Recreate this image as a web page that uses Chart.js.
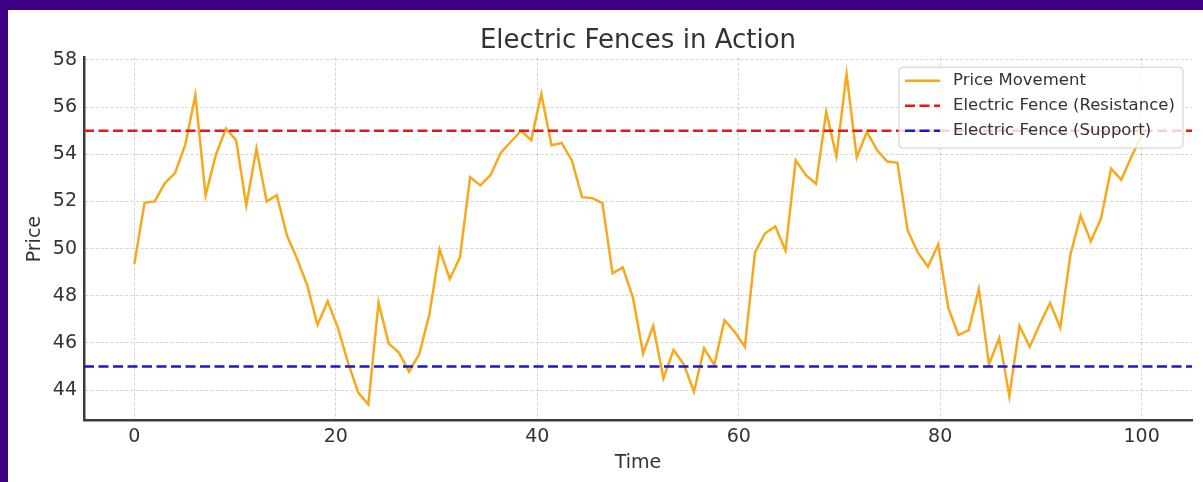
<!DOCTYPE html>
<html>
<head>
<meta charset="utf-8">
<title>Electric Fences in Action</title>
<script src="https://cdn.jsdelivr.net/npm/chart.js@4"></script>
<style>
  html, body { margin: 0; padding: 0; background: #3c0080; }
  #wrap { position: absolute; left: 8px; top: 10px; width: 1195px; height: 472px; background: #fff; }
</style>
</head>
<body>
<div id="wrap"><canvas id="fenceChart" width="1195" height="472"></canvas></div>
<script>
// price, one value per time step (100 steps over 0..100)
const price = [
    49.35, 51.94, 52.0, 52.78, 53.2, 54.4, 56.51, 52.26, 53.96, 55.09,
    54.6, 51.83, 54.24, 52.0, 52.26, 50.55, 49.56, 48.43, 46.77, 47.76,
    46.65, 45.16, 43.89, 43.39, 47.72, 45.97, 45.59, 44.78, 45.52, 47.22,
    49.96, 48.71, 49.63, 53.03, 52.68, 53.11, 54.06, 54.53, 54.99, 54.6,
    56.55, 54.38, 54.48, 53.74, 52.18, 52.14, 51.93, 48.95, 49.2, 47.93,
    45.55, 46.72, 44.5, 45.7, 45.09, 43.93, 45.77, 45.06, 46.96, 46.47,
    45.83, 49.84, 50.65, 50.94, 49.91, 53.74, 53.11, 52.75, 55.8, 53.91,
    57.4, 53.86, 54.95, 54.17, 53.69, 53.64, 50.77, 49.84, 49.23, 50.17,
    47.48, 46.33, 46.54, 48.28, 45.09, 46.2, 43.74, 46.72, 45.83, 46.8,
    47.69, 46.65, 49.74, 51.4, 50.31, 51.26, 53.39, 52.92, 53.89, 54.81
];
// time axis is evenly spaced from 0 to 100
const time = price.map((_, i) => i * 100 / (price.length - 1));

const resistance = 55;
const support = 45;

const xTicks = [0, 20, 40, 60, 80, 100];
const yTicks = [44, 46, 48, 50, 52, 54, 56, 58];
const xRange = [-5, 105];
const yRange = [42.7, 58.1];

const FONT = '"DejaVu Sans", "Liberation Sans", sans-serif';
const TEXT = '#333';

// title centred over the plot area, like matplotlib does
const plotTitle = {
    id: 'plotTitle',
    afterDraw(chart) {
        const { ctx, chartArea } = chart;
        ctx.save();
        ctx.font = '26px ' + FONT;
        ctx.fillStyle = TEXT;
        ctx.textAlign = 'center';
        ctx.textBaseline = 'alphabetic';
        ctx.fillText('Electric Fences in Action', (chartArea.left + chartArea.right) / 2, 38);
        ctx.restore();
    }
};

// boxed legend inside the upper right corner of the plot
const boxLegend = {
    id: 'boxLegend',
    afterDraw(chart) {
        const { ctx, chartArea } = chart;
        const w = 284, h = 81;
        const x = chartArea.right - 9 - w, y = chartArea.top + 9.5;
        ctx.save();
        ctx.beginPath();
        ctx.roundRect(x, y, w, h, 4);
        ctx.fillStyle = 'rgba(255,255,255,0.8)';
        ctx.fill();
        ctx.strokeStyle = 'rgba(200,200,200,0.9)';
        ctx.lineWidth = 1;
        ctx.stroke();
        ctx.font = '16.5px ' + FONT;
        ctx.textBaseline = 'middle';
        chart.data.datasets.forEach((ds, i) => {
            const ly = y + 13.7 + i * 25;
            ctx.strokeStyle = ds.borderColor;
            ctx.lineWidth = ds.borderWidth;
            ctx.setLineDash(ds.borderDash || []);
            ctx.beginPath();
            ctx.moveTo(x + 6, ly);
            ctx.lineTo(x + 41, ly);
            ctx.stroke();
            ctx.setLineDash([]);
            ctx.fillStyle = TEXT;
            ctx.fillText(ds.label, x + 54, ly);
        });
        ctx.restore();
    }
};

const ctx = document.getElementById('fenceChart').getContext('2d');
new Chart(ctx, {
    type: 'line',
    data: {
        datasets: [
            {
                label: 'Price Movement',
                data: time.map((t, i) => ({ x: t, y: price[i] })),
                borderColor: '#f7a81b',
                borderWidth: 2.5,
                pointRadius: 0,
                tension: 0,
                order: 2
            },
            {
                label: 'Electric Fence (Resistance)',
                data: xRange.map(t => ({ x: t, y: resistance })),
                borderColor: '#e81717',
                borderWidth: 2.5,
                borderDash: [10, 4.5],
                pointRadius: 0,
                order: 1
            },
            {
                label: 'Electric Fence (Support)',
                data: xRange.map(t => ({ x: t, y: support })),
                borderColor: '#1616e0',
                borderWidth: 2.5,
                borderDash: [10, 4.5],
                pointRadius: 0,
                order: 1
            }
        ]
    },
    options: {
        responsive: false,
        animation: false,
        devicePixelRatio: 1,
        layout: { padding: { top: 47.6, right: 11, bottom: 0, left: 0 } },
        plugins: {
            legend: { display: false },
            title: { display: false },
            tooltip: { enabled: false }
        },
        scales: {
            x: {
                type: 'linear',
                min: xRange[0],
                max: xRange[1],
                afterBuildTicks: s => { s.ticks = xTicks.map(v => ({ value: v })); },
                afterFit: s => { s.height = 61.3; },
                ticks: { color: TEXT, font: { family: FONT, size: 19 }, padding: 5, maxRotation: 0 },
                grid: { color: 'rgba(0,0,0,0.17)', lineWidth: 1, drawTicks: false },
                border: { color: '#3c3c3c', width: 2.5, dash: [3, 2] },
                title: { display: true, text: 'Time', color: TEXT, font: { family: FONT, size: 19 }, padding: { top: 0, bottom: 7.5 } }
            },
            y: {
                min: yRange[0],
                max: yRange[1],
                afterBuildTicks: s => { s.ticks = yTicks.map(v => ({ value: v })); },
                afterFit: s => { s.width = 76; },
                ticks: { color: TEXT, font: { family: FONT, size: 19 }, padding: 7 },
                grid: { color: 'rgba(0,0,0,0.17)', lineWidth: 1, drawTicks: false },
                border: { color: '#3c3c3c', width: 2.5, dash: [3, 2] },
                title: { display: true, text: 'Price', color: TEXT, font: { family: FONT, size: 19 }, padding: { top: 15.6, bottom: 0 } }
            }
        }
    },
    plugins: [plotTitle, boxLegend]
});
</script>
</body>
</html>
